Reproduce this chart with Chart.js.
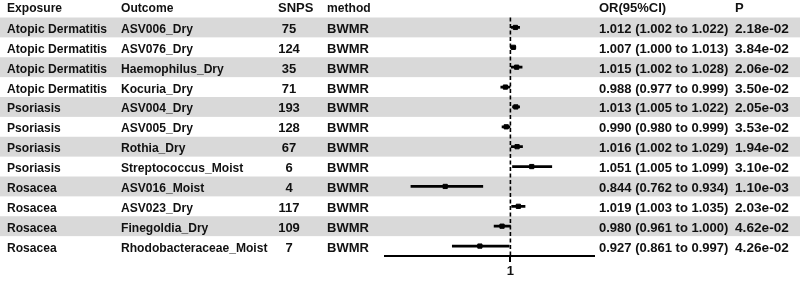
<!DOCTYPE html>
<html>
<head>
<meta charset="utf-8">
<script src="https://cdn.jsdelivr.net/npm/chart.js@4"></script>
<style>
html, body { margin: 0; padding: 0; background: #fff; }
#wrap { width: 800px; height: 283px; }
</style>
</head>
<body>
<div id="wrap"><canvas id="forestChart"></canvas></div>
<script>
// table data
const exposures = [
    'Atopic Dermatitis', 'Atopic Dermatitis', 'Atopic Dermatitis', 'Atopic Dermatitis',
    'Psoriasis', 'Psoriasis', 'Psoriasis', 'Psoriasis',
    'Rosacea', 'Rosacea', 'Rosacea', 'Rosacea'
];
const outcomes = [
    'ASV006_Dry', 'ASV076_Dry', 'Haemophilus_Dry', 'Kocuria_Dry',
    'ASV004_Dry', 'ASV005_Dry', 'Rothia_Dry', 'Streptococcus_Moist',
    'ASV016_Moist', 'ASV023_Dry', 'Finegoldia_Dry', 'Rhodobacteraceae_Moist'
];
const snps = [75, 124, 35, 71, 193, 128, 67, 6, 4, 117, 109, 7];
const methods = ['BWMR', 'BWMR', 'BWMR', 'BWMR', 'BWMR', 'BWMR',
                 'BWMR', 'BWMR', 'BWMR', 'BWMR', 'BWMR', 'BWMR'];
const orValues = [1.012, 1.007, 1.015, 0.988, 1.013, 0.990, 1.016, 1.051, 0.844, 1.019, 0.980, 0.927];
const ciLower  = [1.002, 1.000, 1.002, 0.977, 1.005, 0.980, 1.002, 1.005, 0.762, 1.003, 0.961, 0.861];
const ciUpper  = [1.022, 1.013, 1.028, 0.999, 1.022, 0.999, 1.029, 1.099, 0.934, 1.035, 1.000, 0.997];
const pValues  = [2.18e-2, 3.84e-2, 2.06e-2, 3.50e-2, 2.05e-3, 3.53e-2, 1.94e-2, 3.10e-2, 1.10e-3, 2.03e-2, 4.62e-2, 4.26e-2];
const xTicks = [1];

const FONT = "bold 13px 'Liberation Sans', Arial, sans-serif";

function fmtP(p) {
    return p.toExponential(2).replace(/e([+-])(\d)$/, 'e$10$2');
}
function fmtOR(i) {
    return orValues[i].toFixed(3) + ' (' + ciLower[i].toFixed(3) + ' to ' + ciUpper[i].toFixed(3) + ')';
}

// text squeezed/stretched a bit sideways to match the original's glyph widths
function drawText(ctx, text, x, y, sx, align) {
    ctx.save();
    ctx.translate(x, y);
    ctx.scale(sx, 1);
    ctx.textAlign = align || 'left';
    ctx.fillText(text, 0, 0);
    ctx.restore();
}

// bands, null line and table text
const tablePlugin = {
    id: 'forestTable',
    beforeDraw(chart) {
        const ctx = chart.ctx;
        const y = chart.scales.y;
        const step = y.getPixelForValue(1) - y.getPixelForValue(0);
        ctx.save();
        ctx.fillStyle = '#d9d9d9';
        outcomes.forEach((o, i) => {
            if (i % 2 === 0) {
                const cy = y.getPixelForValue(i);
                ctx.fillRect(0, cy - step / 2, chart.width, step);
            }
        });
        ctx.restore();
    },
    beforeDatasetsDraw(chart) {
        const ctx = chart.ctx;
        const x = chart.scales.x;
        const area = chart.chartArea;
        const px = x.getPixelForValue(1);
        ctx.save();
        ctx.strokeStyle = '#000';
        ctx.lineWidth = 1.6;
        ctx.setLineDash([4, 2.5]);
        ctx.beginPath();
        ctx.moveTo(px, area.top);
        ctx.lineTo(px, area.bottom);
        ctx.stroke();
        ctx.restore();
    },
    afterDraw(chart) {
        const ctx = chart.ctx;
        const y = chart.scales.y;
        ctx.save();
        ctx.font = FONT;
        ctx.fillStyle = '#111';
        ctx.textBaseline = 'alphabetic';
        const hy = 11.8;
        const nameSx = 0.93, pSx = 1.05;
        drawText(ctx, 'Exposure', 7, hy, nameSx);
        drawText(ctx, 'Outcome', 121, hy, nameSx);
        drawText(ctx, 'SNPS', 278, hy, 1);
        drawText(ctx, 'method', 327, hy, nameSx);
        drawText(ctx, 'OR(95%CI)', 599, hy, 1);
        drawText(ctx, 'P', 735, hy, 1);
        outcomes.forEach((o, i) => {
            const by = y.getPixelForValue(i) + 5.5;
            drawText(ctx, exposures[i], 7, by, nameSx);
            drawText(ctx, o, 121, by, nameSx);
            drawText(ctx, String(snps[i]), 289, by, 1, 'center');
            drawText(ctx, methods[i], 327, by, 1);
            drawText(ctx, fmtOR(i), 599, by, 1);
            drawText(ctx, fmtP(pValues[i]), 735, by, pSx);
        });
        ctx.restore();
    }
};

Chart.defaults.font.family = "'Liberation Sans', Arial, sans-serif";

const ctx = document.getElementById('forestChart').getContext('2d');
const forestChart = new Chart(ctx, {
    type: 'bar',
    data: {
        labels: outcomes,
        datasets: [
            {
                type: 'bar',
                label: '95% CI',
                indexAxis: 'y',
                data: outcomes.map((o, i) => [ciLower[i], ciUpper[i]]),
                backgroundColor: '#000',
                borderWidth: 0,
                barThickness: 2
            },
            {
                type: 'line',
                label: 'OR',
                indexAxis: 'y',
                data: outcomes.map((o, i) => ({ x: orValues[i], y: o })),
                showLine: false,
                pointStyle: 'rect',
                pointRadius: 3,
                backgroundColor: '#000',
                borderColor: '#000',
                borderWidth: 1
            }
        ]
    },
    options: {
        indexAxis: 'y',
        responsive: true,
        maintainAspectRatio: false,
        animation: false,
        layout: { padding: { left: 385, right: 206, top: 17.5, bottom: 2 } },
        plugins: {
            legend: { display: false },
            tooltip: { enabled: false }
        },
        scales: {
            x: {
                type: 'linear',
                min: 0.7,
                max: 1.2,
                afterBuildTicks: (scale) => { scale.ticks = xTicks.map(v => ({ value: v })); },
                grid: { display: true, drawOnChartArea: false, drawTicks: true, tickLength: 6, color: '#000', lineWidth: 2 },
                border: { display: true, color: '#000', width: 2 },
                ticks: { color: '#111', font: { size: 13, weight: 'bold', lineHeight: 1 }, padding: 3, maxRotation: 0 }
            },
            y: {
                type: 'category',
                display: false,
                offset: true
            }
        }
    },
    plugins: [tablePlugin]
});
</script>
</body>
</html>
